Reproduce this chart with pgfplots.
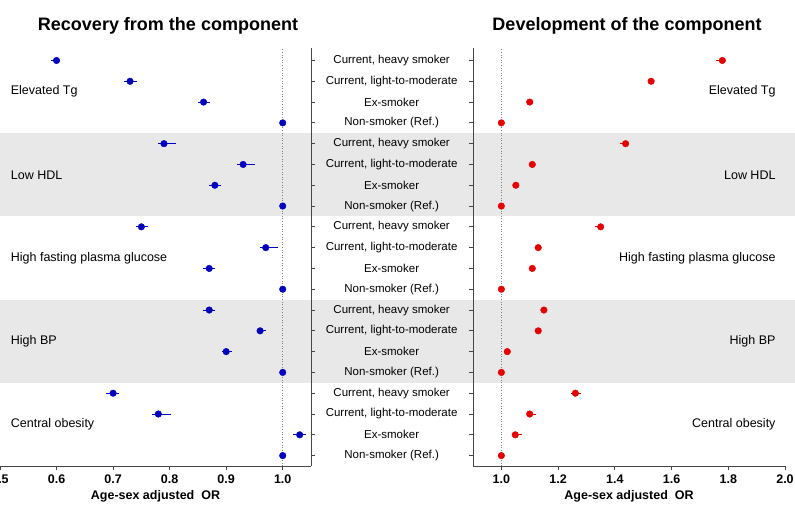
\documentclass[border=0pt]{standalone}
\usepackage{pgfplots}
\pgfplotsset{compat=1.18}
\usepackage{pgfplotstable}
\usepackage{fontspec}
\setmainfont{Liberation Sans}
\definecolor{myblue}{RGB}{0,0,190}
\definecolor{myred}{RGB}{230,0,0}
\definecolor{bandgray}{RGB}{232,232,232}
\definecolor{axgray}{RGB}{70,70,70}

\pgfplotstableread{
y  x     em    ep
20 0.600 0.010 0.005
19 0.730 0.010 0.012
18 0.860 0.010 0.011
17 1.000 0     0
16 0.790 0.011 0.021
15 0.930 0.011 0.021
14 0.880 0.011 0.011
13 1.000 0     0
12 0.750 0.010 0.011
11 0.970 0.010 0.021
10 0.870 0.011 0.011
9  1.000 0     0
8  0.870 0.011 0.011
7  0.960 0.006 0.010
6  0.900 0.007 0.011
5  1.000 0     0
4  0.700 0.012 0.011
3  0.780 0.011 0.022
2  1.030 0.011 0.011
1  1.000 0     0
}\recovery

\pgfplotstableread{
y  x     em    ep
20 1.779 0.021 0.012
19 1.528 0.006 0.006
18 1.100 0.006 0.006
17 1.000 0     0
16 1.438 0.019 0.012
15 1.109 0.006 0.006
14 1.051 0.006 0.006
13 1.000 0     0
12 1.350 0.021 0.010
11 1.130 0.006 0.006
10 1.109 0.006 0.006
9  1.000 0     0
8  1.150 0.006 0.006
7  1.130 0.006 0.006
6  1.021 0.006 0.006
5  1.000 0     0
4  1.261 0.016 0.020
3  1.100 0.010 0.021
2  1.049 0.009 0.023
1  1.000 0     0
}\development

\newcommand{\midfont}{\fontsize{11.5}{13}\selectfont}
\newcommand{\grpfont}{\fontsize{12.5}{14}\selectfont}
\newcommand{\tickfont}{\bfseries\fontsize{12.5}{14}\selectfont}
\newcommand{\titlefont}{\bfseries\fontsize{18}{21}\selectfont}

\pgfplotsset{
  common/.style={
    scale only axis,
    height=418pt,
    ymin=0.5, ymax=20.6,
    ytick={1,...,20},
    yticklabels={},
    axis x line*=bottom,
    tick align=outside,
    major tick length=4pt,
    axis line style={axgray, line width=0.8pt},
    tick style={axgray, line width=0.8pt},
    every tick label/.append style={font=\tickfont},
    xticklabel style={yshift=-1pt},
    /pgf/number format/assume math mode=true,
    xlabel={Age-sex adjusted~ OR},
    xlabel style={font=\tickfont, yshift=0pt},
    clip=false,
  },
}

\begin{document}
\begin{tikzpicture}
\begin{axis}[common,
  at={(0pt,38pt)}, anchor=south west,
  width=311pt,
  xmin=0.5, xmax=1.05,
  xtick={0.5,0.6,0.7,0.8,0.9,1.0},
  xticklabels={0.5,0.6,0.7,0.8,0.9,1.0},
  axis y line*=right,
  axis on top,
]
  \fill[bandgray] (axis cs:0.48,12.5) rectangle (axis cs:1.92,16.5);
  \fill[bandgray] (axis cs:0.48,4.5) rectangle (axis cs:1.92,8.5);
  \draw[gray, dotted, line width=0.6pt] (axis cs:1,0.5) -- (axis cs:1,20.6);
  \pgfplotsinvokeforeach{1,5,9,13,17}{
    \node[font=\midfont] at (axis cs:1.1926,#1+3) {Current, heavy smoker};
    \node[font=\midfont] at (axis cs:1.1926,#1+2) {Current, light-to-moderate};
    \node[font=\midfont] at (axis cs:1.1926,#1+1) {Ex-smoker};
    \node[font=\midfont] at (axis cs:1.1926,#1) {Non-smoker (Ref.)};
  }
  \node[font=\grpfont, anchor=west] at (axis cs:0.513,18.5) {Elevated Tg};
  \node[font=\grpfont, anchor=west] at (axis cs:0.513,14.5) {Low HDL};
  \node[font=\grpfont, anchor=west] at (axis cs:0.513,10.5) {High fasting plasma glucose};
  \node[font=\grpfont, anchor=west] at (axis cs:0.513,6.5) {High BP};
  \node[font=\grpfont, anchor=west] at (axis cs:0.513,2.5) {Central obesity};
  \addplot[only marks, mark=*, mark size=3.3pt, color=myblue,
    error bars/.cd, x dir=both, x explicit, error mark=none,
    error bar style={line width=0.8pt, myblue}]
    table[x=x, y=y, x error plus=ep, x error minus=em] {\recovery};
\end{axis}

\begin{axis}[common,
  at={(473pt,38pt)}, anchor=south west,
  width=312pt,
  xmin=0.9, xmax=2.0,
  xtick={1.0,1.2,1.4,1.6,1.8,2.0},
  xticklabels={1.0,1.2,1.4,1.6,1.8,2.0},
  axis y line*=left,
]
  \draw[gray, dotted, line width=0.6pt] (axis cs:1,0.5) -- (axis cs:1,20.6);
  \node[font=\grpfont, anchor=east] at (axis cs:1.979,18.5) {Elevated Tg};
  \node[font=\grpfont, anchor=east] at (axis cs:1.979,14.5) {Low HDL};
  \node[font=\grpfont, anchor=east] at (axis cs:1.979,10.5) {High fasting plasma glucose};
  \node[font=\grpfont, anchor=east] at (axis cs:1.979,6.5) {High BP};
  \node[font=\grpfont, anchor=east] at (axis cs:1.979,2.5) {Central obesity};
  \addplot[only marks, mark=*, mark size=3.3pt, color=myred,
    error bars/.cd, x dir=both, x explicit, error mark=none,
    error bar style={line width=0.8pt, myred}]
    table[x=x, y=y, x error plus=ep, x error minus=em] {\development};
\end{axis}

\node[font=\titlefont, anchor=base] at (168pt,473.3pt) {Recovery from the component};
\node[font=\titlefont, anchor=base] at (627pt,473.3pt) {Development of the component};

\pgfresetboundingbox
\path[use as bounding box] (0pt,0pt) rectangle (795pt,504pt);
\end{tikzpicture}
\end{document}
